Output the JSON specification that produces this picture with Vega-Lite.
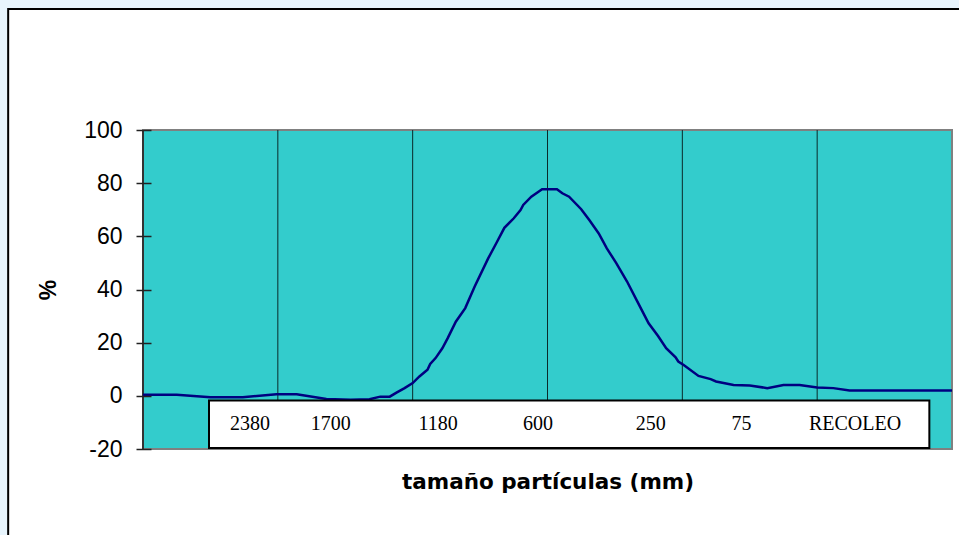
{
  "$schema": "https://vega.github.io/schema/vega-lite/v6.json",
  "autosize": {"type": "none"},
  "padding": {"left": 143, "top": 130, "right": 7, "bottom": 86},
  "width": 809,
  "height": 319,
  "background": "#E8F5FD",
  "config": {"view": {"stroke": null}},
  "resolve": {"axis": {"x": "independent", "y": "independent"}},
  "datasets": {
    "curve": [
      {"t": 0, "v": 0.4}, {"t": 0.25, "v": 0.4}, {"t": 0.5, "v": -0.5}, {"t": 0.74, "v": -0.5},
      {"t": 0.99, "v": 0.6}, {"t": 1.14, "v": 0.6}, {"t": 1.36, "v": -1.2}, {"t": 1.54, "v": -1.5},
      {"t": 1.68, "v": -1.3}, {"t": 1.76, "v": -0.3}, {"t": 1.83, "v": -0.3}, {"t": 1.88, "v": 1.2},
      {"t": 1.94, "v": 2.9}, {"t": 2.0, "v": 4.8}, {"t": 2.05, "v": 7.3}, {"t": 2.11, "v": 9.8},
      {"t": 2.13, "v": 12.0}, {"t": 2.17, "v": 14.2}, {"t": 2.22, "v": 17.9}, {"t": 2.26, "v": 21.7},
      {"t": 2.32, "v": 27.9}, {"t": 2.39, "v": 33.0}, {"t": 2.46, "v": 41.1}, {"t": 2.56, "v": 51.7},
      {"t": 2.62, "v": 57.4}, {"t": 2.68, "v": 63.2}, {"t": 2.75, "v": 66.8}, {"t": 2.8, "v": 69.9},
      {"t": 2.82, "v": 71.8}, {"t": 2.88, "v": 74.9}, {"t": 2.96, "v": 77.7}, {"t": 3.07, "v": 77.7},
      {"t": 3.11, "v": 76.2}, {"t": 3.16, "v": 74.9}, {"t": 3.25, "v": 70.2}, {"t": 3.31, "v": 66.1},
      {"t": 3.38, "v": 61.1}, {"t": 3.44, "v": 55.5}, {"t": 3.51, "v": 49.9}, {"t": 3.59, "v": 43.0},
      {"t": 3.66, "v": 36.1}, {"t": 3.75, "v": 27.3}, {"t": 3.82, "v": 22.5}, {"t": 3.88, "v": 17.9},
      {"t": 3.95, "v": 14.5}, {"t": 3.97, "v": 12.9}, {"t": 4.01, "v": 11.6}, {"t": 4.12, "v": 7.5},
      {"t": 4.21, "v": 6.3}, {"t": 4.25, "v": 5.4}, {"t": 4.38, "v": 4.1}, {"t": 4.5, "v": 3.9},
      {"t": 4.63, "v": 2.9}, {"t": 4.75, "v": 4.1}, {"t": 4.87, "v": 4.1}, {"t": 5.0, "v": 3.1},
      {"t": 5.12, "v": 2.9}, {"t": 5.24, "v": 2.0}, {"t": 6.0, "v": 2.0}
    ],
    "grid": [{"t": 1}, {"t": 2}, {"t": 3}, {"t": 4}, {"t": 5}],
    "labels": [
      {"label": "2380", "t": 0.794}, {"label": "1700", "t": 1.393}, {"label": "1180", "t": 2.188},
      {"label": "600", "t": 2.93}, {"label": "250", "t": 3.766}, {"label": "75", "t": 4.438},
      {"label": "RECOLEO", "t": 5.281}
    ]
  },
  "layer": [
    {
      "data": {"values": [{}]},
      "mark": {"type": "rect", "fill": "white", "stroke": "black", "strokeWidth": 2, "clip": false},
      "encoding": {
        "x": {"datum": -1.0, "type": "quantitative", "scale": {"domain": [0, 6], "nice": false, "zero": false}, "axis": null},
        "x2": {"datum": 7.5},
        "y": {"datum": 145.5, "type": "quantitative", "scale": {"domain": [-20, 100], "nice": false, "zero": false}, "axis": null},
        "y2": {"datum": -70}
      }
    },
    {
      "data": {"values": [{}]},
      "mark": {"type": "rect", "fill": "#33CCCC", "stroke": "#808080", "strokeWidth": 2},
      "encoding": {
        "x": {"datum": 0, "type": "quantitative", "axis": null},
        "x2": {"datum": 6},
        "y": {"datum": 100, "type": "quantitative", "axis": null},
        "y2": {"datum": -20}
      }
    },
    {
      "data": {"name": "grid"},
      "mark": {"type": "rule", "color": "#0a2a2a", "strokeWidth": 1},
      "encoding": {
        "x": {"field": "t", "type": "quantitative", "axis": null}
      }
    },
    {
      "data": {"values": [{}]},
      "mark": {"type": "rule", "color": "#333333", "strokeWidth": 2},
      "encoding": {
        "x": {"datum": 0, "type": "quantitative", "axis": null},
        "y": {"datum": 100, "type": "quantitative", "axis": null},
        "y2": {"datum": -20}
      }
    },
    {
      "data": {"name": "curve"},
      "mark": {"type": "line", "color": "#000080", "strokeWidth": 2.5},
      "encoding": {
        "x": {
          "field": "t", "type": "quantitative",
          "axis": {
            "title": "tamaño partículas (mm)", "labels": false, "ticks": false, "domain": false, "grid": false,
            "titleFont": "DejaVu Sans", "titleFontSize": 21.5, "titleFontWeight": "bold", "titleColor": "black",
            "titleY": 33, "titleBaseline": "middle", "zindex": 2
          }
        },
        "y": {
          "field": "v", "type": "quantitative",
          "axis": {
            "title": "%", "values": [-20, 0, 20, 40, 60, 80, 100], "offset": -8, "domain": false, "grid": false,
            "tickSize": 15, "tickColor": "#222222", "tickWidth": 1.5, "labelPadding": 14,
            "labelExpr": "'' + datum.value",
            "labelFont": "Liberation Sans", "labelFontSize": 23, "labelColor": "black",
            "titleFont": "Liberation Sans", "titleFontSize": 23, "titleFontWeight": "bold", "titleColor": "black",
            "titleX": -103, "titleY": 159.5, "titleAngle": -90, "titleAlign": "center", "titleBaseline": "middle",
            "zindex": 2
          }
        }
      }
    },
    {
      "data": {"values": [{}]},
      "mark": {"type": "rect", "fill": "white", "stroke": "black", "strokeWidth": 2},
      "encoding": {
        "x": {"datum": 0.4895, "type": "quantitative", "axis": null},
        "x2": {"datum": 5.832},
        "y": {"datum": -1.72, "type": "quantitative", "axis": null},
        "y2": {"datum": -19.6}
      }
    },
    {
      "data": {"name": "labels"},
      "mark": {"type": "text", "font": "Liberation Serif", "fontSize": 20, "color": "black", "baseline": "middle", "align": "center"},
      "encoding": {
        "x": {"field": "t", "type": "quantitative", "axis": null},
        "y": {"datum": -10.6, "type": "quantitative", "axis": null},
        "text": {"field": "label"}
      }
    }
  ]
}
